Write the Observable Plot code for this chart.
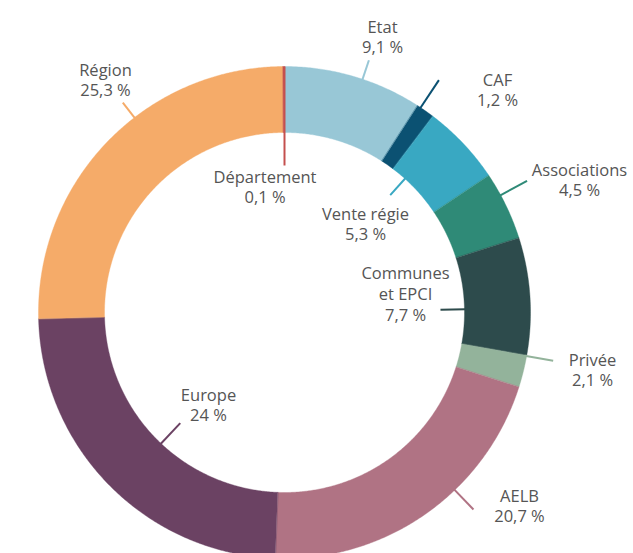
<!DOCTYPE html>
<html><head><meta charset="utf-8">
<script src="https://cdn.jsdelivr.net/npm/d3@7"></script>
<script src="https://cdn.jsdelivr.net/npm/@observablehq/plot@0.6"></script>
<style>html,body{margin:0;padding:0;background:#fff} #chart svg{display:block}</style>
</head><body><div id="chart"></div>
<script>
// ---- data ----
const categories = ["Etat","CAF","Vente régie","Associations","Communes et EPCI","Privée","AELB","Europe","Région","Département"];
const shares = [9.1, 1.2, 5.3, 4.5, 7.7, 2.1, 20.7, 24, 25.3, 0.1];
const nameLabels = ["Etat","CAF","Vente régie","Associations","Communes\net EPCI","Privée","AELB","Europe","Région","Département"];
const valueLabels = ["9,1 %","1,2 %","5,3 %","4,5 %","7,7 %","2,1 %","20,7 %","24 %","25,3 %","0,1 %"];
const colors = ["#98c7d6","#0b5172","#39a8c2","#2f8a77","#2d4b4c","#93b39b","#b07384","#6b4263","#f5ab69","#c4504e"];

// ---- layout (annotation placement) ----
const W = 633, H = 553, CX = 284, CY = 312, R_OUT = 246, R_IN = 180;
const labelLayout = {
  "Etat":             {angle: 18.5,  r0: 244, r1: 266, tx: 98,   ty: 276},
  "CAF":              {angle: 33.6,  r0: 235, r1: 279, tx: 213,  ty: 223},
  "Vente régie":      {angle: 42,    r0: 183, r1: 158, tx: 81,   ty: 89},
  "Associations":     {angle: 61.5,  r0: 244, r1: 276, tx: 295,  ty: 133},
  "Communes et EPCI": {angle: 89,    r0: 181, r1: 156, tx: 121,  ty: 19},
  "Privée":           {angle: 100.2, r0: 244, r1: 273, tx: 308,  ty: -57},
  "AELB":             {angle: 136.2, r0: 244, r1: 273, tx: 235,  ty: -193},
  "Europe":           {angle: 223.3, r0: 181, r1: 152, tx: -76,  ty: -92},
  "Région":           {angle: 322.4, r0: 244, r1: 265, tx: -179, ty: 233},
  "Département":      {angle: 0,     r0: 246, r1: 147, tx: -19.5,ty: 126}
};

const rad = d => d * Math.PI / 180;
const total = d3.sum(shares);

// build ring polygons from the shares
const ringPts = [];
let acc = 0;
categories.forEach((c, i) => {
  const a0 = acc / total * 360, a1 = (acc + shares[i]) / total * 360;
  acc += shares[i];
  const n = Math.max(2, Math.ceil((a1 - a0) / 0.4));
  for (let k = 0; k <= n; k++) {
    const a = rad(a0 + (a1 - a0) * k / n);
    ringPts.push({cat: c, x: R_OUT * Math.sin(a), y: R_OUT * Math.cos(a)});
  }
  for (let k = n; k >= 0; k--) {
    const a = rad(a0 + (a1 - a0) * k / n);
    ringPts.push({cat: c, x: R_IN * Math.sin(a), y: R_IN * Math.cos(a)});
  }
});

const leaders = [];
categories.forEach((c, i) => {
  const L = labelLayout[c];
  const a = rad(L.angle);
  leaders.push({cat: c, x1: L.r0 * Math.sin(a), y1: L.r0 * Math.cos(a), x2: L.r1 * Math.sin(a), y2: L.r1 * Math.cos(a)});
});
const texts = categories.map((c, i) => ({cat: c, x: labelLayout[c].tx, y: labelLayout[c].ty, text: nameLabels[i] + "\n" + valueLabels[i]}));

const chart = Plot.plot({
  width: W, height: H,
  marginTop: 0, marginRight: 0, marginBottom: 0, marginLeft: 0,
  x: {domain: [-CX, W - CX], range: [0, W], axis: null},
  y: {domain: [-(H - CY), CY], range: [H, 0], axis: null},
  color: {domain: categories, range: colors},
  style: {fontFamily: "'Open Sans', sans-serif", background: "#fff"},
  marks: [
    Plot.line(ringPts, {x: "x", y: "y", z: "cat", fill: "cat", stroke: "cat", strokeWidth: 0.4, curve: "linear-closed"}),
    Plot.link(leaders, {x1: "x1", y1: "y1", x2: "x2", y2: "y2", stroke: "cat", strokeWidth: 2}),
    Plot.text(texts, {x: "x", y: "y", text: "text", fill: "#555", fontSize: 16.5, lineHeight: 1.25, textAnchor: "middle", fontFamily: "'Open Sans', sans-serif"})
  ]
});
document.getElementById("chart").appendChild(chart);
</script>
</body></html>
